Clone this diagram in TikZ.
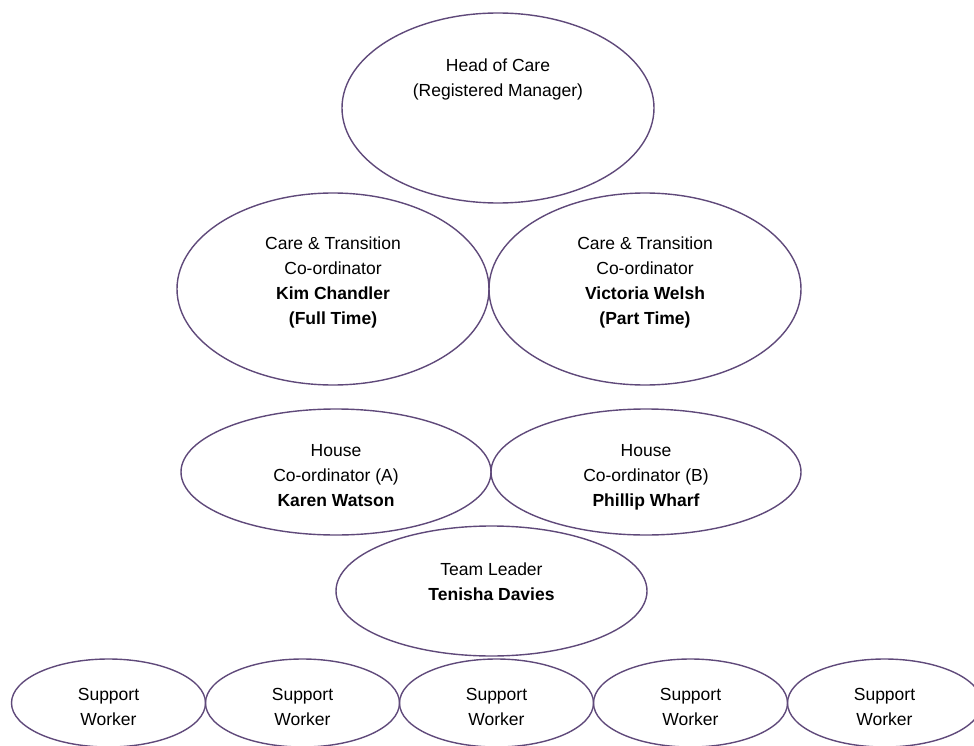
\documentclass[tikz,border=0pt]{standalone}
\usepackage{fontspec}
\setmainfont{Liberation Sans}
\usepackage{tikz}
\usetikzlibrary{shapes.geometric,positioning}
\definecolor{carepurple}{HTML}{5F497A}
\tikzset{
    node distance = 0cm and 0cm,
    role/.style = {ellipse, draw=carepurple, line width=1.4pt, align=center,
        inner sep=0pt, outer sep=0pt,
        font=\fontsize{17.5}{24.7}\selectfont},
    big/.style = {role, minimum width=312pt, minimum height=192pt, text height=74pt, text depth=4pt},
    house/.style = {role, minimum width=310pt, minimum height=126pt, text height=72pt, text depth=4pt},
    worker/.style = {role, minimum width=194pt, minimum height=88pt, text height=49pt, text depth=4pt}
}
\begin{document}
\begin{tikzpicture}[x=1pt,y=-1pt]
    \useasboundingbox (0,0) rectangle (974,746);
    \node[role,minimum width=312pt,minimum height=190pt,text height=13pt,text depth=36pt] (headcare) at (498,108)
        {Head of Care\\(Registered Manager)};
    % co-ordinators
    \node[big] (coordKim) at (333,289)
        {Care \& Transition\\Co-ordinator\\\textbf{Kim Chandler}\\\textbf{(Full Time)}};
    \node[big] (coordVictoria) [right=of coordKim]
        {Care \& Transition\\Co-ordinator\\\textbf{Victoria Welsh}\\\textbf{(Part Time)}};
    \node[house] (houseA) at (336,472)
        {House\\Co-ordinator (A)\\\textbf{Karen Watson}};
    \node[house] (houseB) [right=of houseA]
        {House\\Co-ordinator (B)\\\textbf{Phillip Wharf}};
    \node[role,minimum width=311pt,minimum height=130pt,text height=22pt,text depth=4pt] (teamleader) at (491.5,591)
        {Team Leader\\\textbf{Tenisha Davies}};
    % support workers along the bottom
    \node[worker] (support3) at (496.5,703) {Support\\Worker};
    \node[worker] (support2) [left=of support3] {Support\\Worker};
    \node[worker] (support1) [left=of support2] {Support\\Worker};
    \node[worker] (support4) [right=of support3] {Support\\Worker};
    \node[worker] (support5) [right=of support4] {Support\\Worker};
\end{tikzpicture}
\end{document}
